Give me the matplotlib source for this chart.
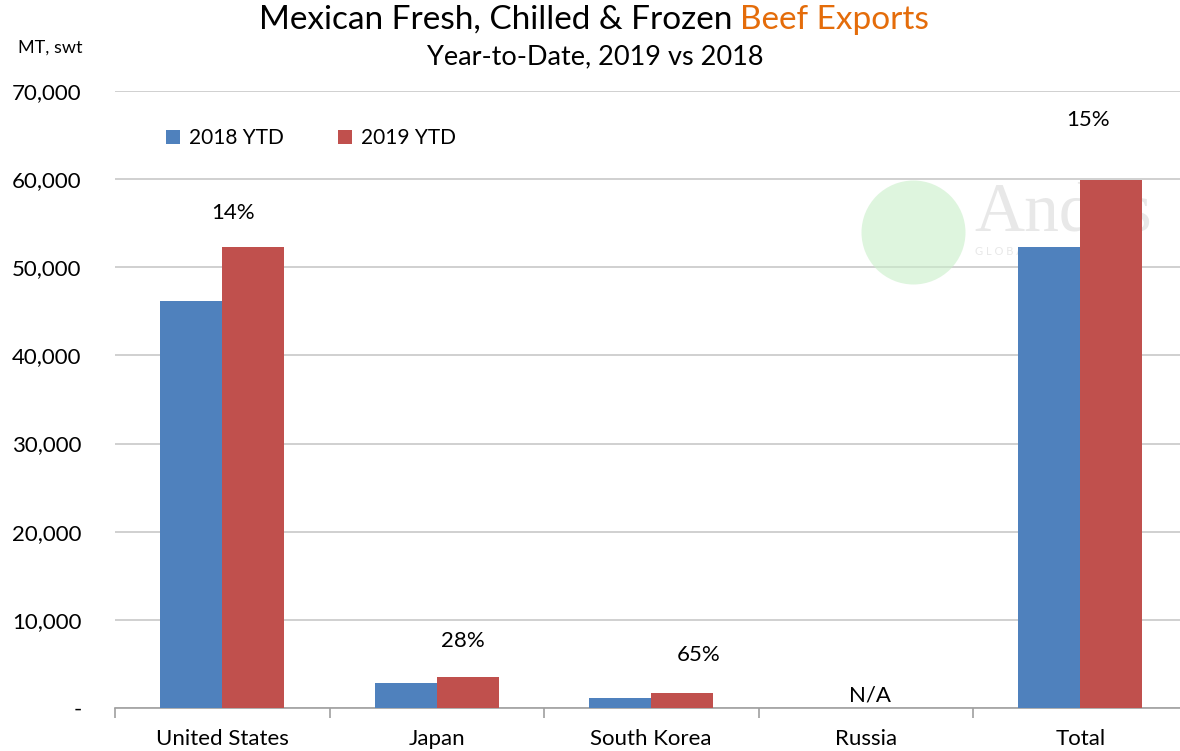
import numpy as np
import matplotlib
matplotlib.use("Agg")
import matplotlib.pyplot as plt

categories = ["United States", "Japan", "South Korea", "Russia", "Total"]
ytd_2018 = [46150, 2850, 1150, 0, 52300]
ytd_2019 = [52300, 3500, 1700, 0, 59900]
change_labels = ["14%", "28%", "65%", "N/A", "15%"]

BLUE = "#4F81BD"
RED = "#C0504D"
ORANGE = "#E46C0A"

plt.rcParams["font.family"] = ["Lato", "DejaVu Sans"]

W, H = 1180, 751
fig = plt.figure(figsize=(W / 100, H / 100), dpi=100)
left, right = 115, 1180
bottom, top = 708, 91
ax = fig.add_axes([left / W, 1 - bottom / H, (right - left) / W, (bottom - top) / H])

x = np.arange(len(categories))
bw = 0.29
ax.bar(x - bw / 2, ytd_2018, bw, color=BLUE, label="2018 YTD", zorder=3)
ax.bar(x + bw / 2, ytd_2019, bw, color=RED, label="2019 YTD", zorder=3)

ax.set_yticks(np.arange(0, 70001, 10000))
ax.set_yticklabels(["-"] + ["{:,}".format(v) for v in range(10000, 70001, 10000)])
ax.yaxis.grid(True, color="#C8C8C8", linewidth=1.2, zorder=0)
ax.set_axisbelow(True)
ax.tick_params(axis="y", length=0, pad=24, labelsize=16)

ax.set_xticks(x)
ax.set_xticklabels(categories)
ax.set_xticks(np.arange(len(categories)) - 0.5, minor=True)
ax.tick_params(axis="x", which="major", length=0, pad=15, labelsize=16)
ax.tick_params(axis="x", which="minor", length=7, width=1.2, color="#A0A0A0", direction="out")

cat_w = 214.5
ax.set_ylim(0, 70000)
ax.set_xlim(-0.5, -0.5 + (right - left) / cat_w)

for s in ["top", "right", "left"]:
    ax.spines[s].set_visible(False)
ax.spines["bottom"].set_color("#A0A0A0")
ax.spines["bottom"].set_linewidth(1.2)

# percent change labels
offsets = [(-20, 34), (-5, 36), (16, 38), (0, 0), (-23, 60)]
for i, lab in enumerate(change_labels):
    dx, dy = offsets[i]
    if lab == "N/A":
        ax.annotate(lab, (x[i] + 0.02, 0), xytext=(0, 2), textcoords="offset pixels",
                    ha="center", va="bottom", fontsize=16)
    else:
        ax.annotate(lab, (x[i] + bw / 2, ytd_2019[i]), xytext=(dx, dy), textcoords="offset pixels",
                    ha="center", va="center", fontsize=16)

ax.legend(loc="upper left", bbox_to_anchor=(0.03, 0.97), ncol=2, frameon=False,
          fontsize=15, handlelength=0.7, handleheight=0.7, handletextpad=0.4, columnspacing=2.6)

# watermark
ax.scatter([(913 - left) / (right - left)], [(bottom - 232) / (bottom - top)], s=(104 * 0.72) ** 2,
           color="#C9EFC9", alpha=0.6, transform=ax.transAxes, zorder=1, linewidths=0)
ax.text(974 / W, 1 - 214 / H, "Andes", fontsize=50, family="Liberation Serif",
        color="#E8E8E8", va="center", ha="left", zorder=1, transform=fig.transFigure)
ax.text(975 / W, 1 - 252 / H, "G L O B A L   C O N S U L T I N G", fontsize=8,
        color="#E8E8E8", va="center", ha="left", zorder=1, transform=fig.transFigure)

# titles
t1 = fig.text(0, 1 - 20 / H, "Mexican Fresh, Chilled & Frozen ", fontsize=24, va="center", ha="left")
fig.canvas.draw()
r = fig.canvas.get_renderer()
bb1 = t1.get_window_extent(r)
t2 = fig.text(0, 1 - 20 / H, "Beef Exports", fontsize=24, va="center", ha="left", color=ORANGE)
bb2 = t2.get_window_extent(r)
total = bb1.width + bb2.width
x0 = 594 - total / 2
t1.set_x(x0 / W)
t2.set_x((x0 + bb1.width) / W)

fig.text(595 / W, 1 - 57 / H, "Year-to-Date, 2019 vs 2018", fontsize=19.5, ha="center", va="center")
fig.text(50 / W, 1 - 48 / H, "MT, swt", fontsize=13, ha="center", va="center")

fig.savefig("out.png", dpi=100)
